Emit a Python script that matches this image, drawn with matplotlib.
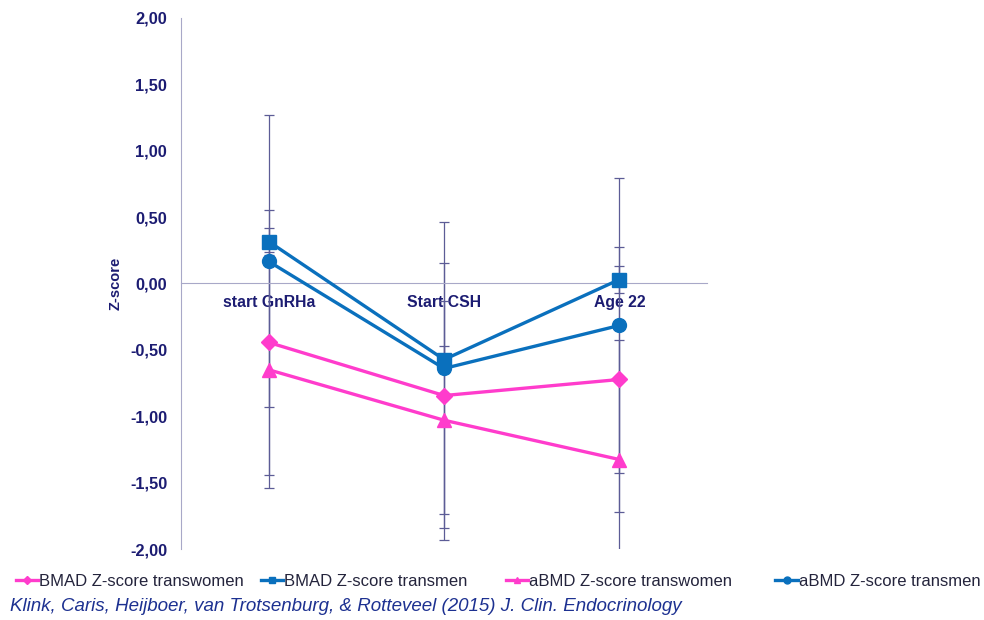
import numpy as np
import matplotlib
matplotlib.use("Agg")
import matplotlib.pyplot as plt

plt.rcParams['font.family'] = ['Liberation Sans', 'DejaVu Sans']

# data
categories = ["start GnRHa", "Start CSH", "Age 22"]

bmad_women = [-0.444, -0.844, -0.723]
bmad_men = [0.316, -0.573, 0.030]
abmd_women = [-0.650, -1.030, -1.326]
abmd_men = [0.166, -0.640, -0.316]

bmad_women_sd = [1.00, 1.00, 1.00]
bmad_men_sd = [0.10, 0.10, 0.10]
abmd_women_sd = [0.89, 0.90, 0.90]
abmd_men_sd = [1.10, 1.10, 1.11]

y_ticks = [2.0, 1.5, 1.0, 0.5, 0.0, -0.5, -1.0, -1.5, -2.0]

PINK = "#ff3ccc"
BLUE = "#0a70bd"
NAVY = "#1c1c72"
GRID = "#a8a8c8"
ERR = "#5c5c96"

# left edge of each legend entry, as figure fraction
LEGEND_X = [0.004, 0.253, 0.502, 0.776]


def main():
    fig = plt.figure(figsize=(9.84, 6.2), dpi=100)
    ax = fig.add_axes([0.184, 0.1145, 0.5346, 0.8565])

    # x axis crosses at zero, like the original spreadsheet chart
    ax.spines["bottom"].set_position(("data", 0))
    ax.spines["bottom"].set_color(GRID)
    ax.spines["left"].set_color(GRID)
    ax.spines["right"].set_visible(False)
    ax.spines["top"].set_visible(False)

    x = np.arange(len(categories))

    series = [
        ("BMAD Z-score transwomen", bmad_women, bmad_women_sd, PINK, "D", 8),
        ("BMAD Z-score transmen", bmad_men, bmad_men_sd, BLUE, "s", 10),
        ("aBMD Z-score transwomen", abmd_women, abmd_women_sd, PINK, "^", 10),
        ("aBMD Z-score transmen", abmd_men, abmd_men_sd, BLUE, "o", 10),
    ]

    for name, vals, sd, col, mk, ms in series:
        ax.errorbar(x, vals, yerr=sd, fmt="none", ecolor=ERR, elinewidth=0.9,
                    capsize=3.5, capthick=0.9, zorder=2)

    handles = []
    for name, vals, sd, col, mk, ms in series:
        h, = ax.plot(x, vals, color=col, lw=2.4, marker=mk, markersize=ms,
                     markeredgecolor=col, label=name, zorder=3)
        handles.append(h)

    ax.set_xlim(-0.5, 2.5)
    ax.set_ylim(-2.0, 2.0)

    ax.set_yticks(y_ticks)
    ax.set_yticklabels([f"{v:.2f}".replace(".", ",") for v in y_ticks],
                       fontsize=11.8, fontweight="bold", color=NAVY)
    ax.tick_params(axis="y", length=0, pad=10)

    ax.set_xticks(x)
    ax.set_xticklabels(categories, fontsize=11.3, fontweight="bold", color=NAVY)
    ax.tick_params(axis="x", length=0, pad=8)

    ax.set_ylabel("Z-score", fontsize=10.5, fontweight="bold", color=NAVY)
    ax.yaxis.set_label_coords(-0.112, 0.5)

    for h, lx in zip(handles, LEGEND_X):
        leg = fig.legend(handles=[h], loc="center left",
                         bbox_to_anchor=(lx, 0.062), frameon=False,
                         fontsize=12, handlelength=1.35, handletextpad=0.08,
                         markerscale=0.5, borderpad=0.2)
        for t in leg.get_texts():
            t.set_color("#24243c")

    fig.text(0.01, 0.021, "Klink, Caris, Heijboer, van Trotsenburg, & Rotteveel (2015) J. Clin. Endocrinology",
             fontsize=13.5, style="italic", color="#1d3191", ha="left", va="center")

    fig.savefig("out.png", dpi=100)
    plt.close(fig)


if __name__ == "__main__":
    main()
